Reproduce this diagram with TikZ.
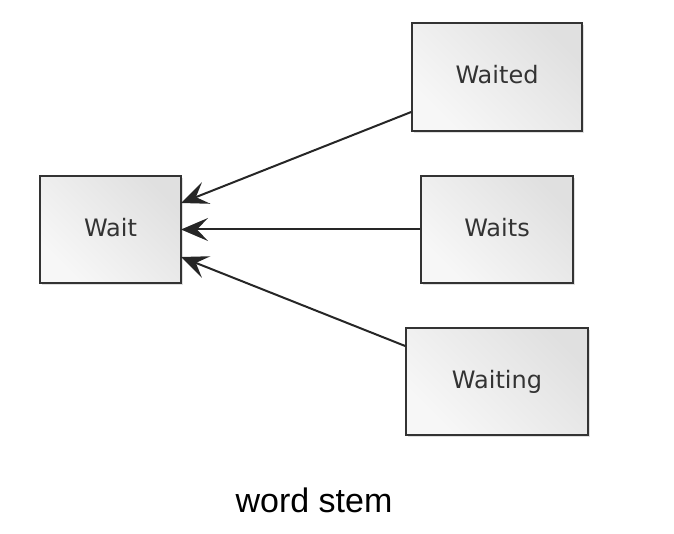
\documentclass[tikz,border=0pt]{standalone}
\usepackage{fontspec}
\setmainfont{Liberation Sans}
\newfontfamily\boxfont{DejaVu Sans}
\usetikzlibrary{arrows.meta,shadows}
\begin{document}
\begin{tikzpicture}[x=1pt,y=-1pt,
  wordbox/.style={draw=black!80,line width=1.6pt,top color=white!97!black,bottom color=black!12,
    shading angle=135,drop shadow={shadow xshift=2pt,shadow yshift=-2pt,opacity=0.25},
    font=\boxfont\fontsize{24}{28}\selectfont,text=black!80,inner sep=0pt},
  link/.style={draw=black!85,line width=2pt,-{Stealth[length=27pt,width=23pt,inset=11pt]}}]
\useasboundingbox (0,0) rectangle (674,534);
\node[wordbox,minimum width=141pt,minimum height=107pt] (wait) at (110.5,229.5) {\raisebox{5pt}{Wait}};
\node[wordbox,minimum width=170pt,minimum height=108pt] (waited) at (497,77) {\raisebox{5pt}{Waited}};
\node[wordbox,minimum width=152pt,minimum height=107pt] (waits) at (497,229.5) {\raisebox{5pt}{Waits}};
\node[wordbox,minimum width=182pt,minimum height=107pt] (waiting) at (497,381.5) {\raisebox{5pt}{Waiting}};
\node[font=\fontsize{34}{38}\selectfont] (cap) at (314,500) {word stem};
\coordinate (a1) at (181,203);
\coordinate (a2) at (181,229.5);
\coordinate (a3) at (181,257);
\draw[link] (waited.west |- 0,112) -- (a1);
\draw[link] (waits.west) -- (a2);
\draw[link] (waiting.west |- 0,346) -- (a3);
\end{tikzpicture}
\end{document}
